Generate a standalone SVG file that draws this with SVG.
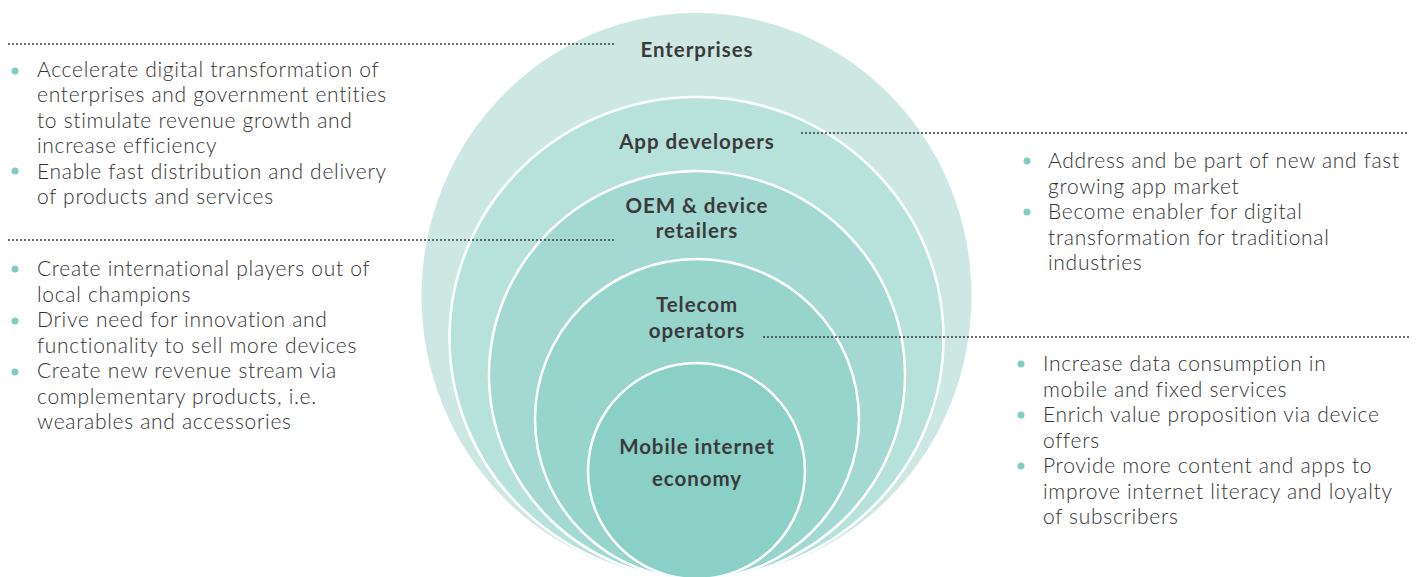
<svg xmlns="http://www.w3.org/2000/svg" width="1420" height="577" viewBox="0 0 1420 577">
<style>
.ring{stroke:#ffffff;stroke-width:2.5}
.lbl{font-family:"Lato","Liberation Sans",sans-serif;font-weight:700;font-size:20.5px;letter-spacing:0.95px;fill:#3a3a3a;text-anchor:middle}
.txt{font-family:"Lato","Liberation Sans",sans-serif;font-weight:300;font-size:21px;letter-spacing:0.7px;fill:#333333}
.dot{fill:#7fcdc3}
.lead{stroke:#3a3a3a;stroke-width:2;stroke-dasharray:0 4;stroke-linecap:round;fill:none}
</style>
<rect width="1420" height="577" fill="#ffffff"/>
<g id="enterprises">
<ellipse cx="696.5" cy="296" rx="275" ry="283" fill="#cde8e3"/>
<text class="lbl" x="697" y="57">Enterprises</text>
</g>
<g id="app-developers">
<ellipse class="ring" cx="696.5" cy="338" rx="247" ry="241" fill="#b7e1db"/>
<text class="lbl" x="697" y="149">App developers</text>
</g>
<g id="oem">
<ellipse class="ring" cx="697" cy="375" rx="208" ry="204" fill="#a3d9d2"/>
<text class="lbl" x="697" y="213">OEM &amp; device</text>
<text class="lbl" x="697" y="238">retailers</text>
</g>
<g id="telecom">
<ellipse class="ring" cx="697" cy="419" rx="162" ry="160" fill="#97d4cc"/>
<text class="lbl" x="697" y="312">Telecom</text>
<text class="lbl" x="697" y="338">operators</text>
</g>
<g id="mobile">
<ellipse class="ring" cx="696.5" cy="471" rx="108.5" ry="108" fill="#8ad0c7"/>
<text class="lbl" x="697" y="454">Mobile internet</text>
<text class="lbl" x="697" y="486">economy</text>
</g>
<g id="connectors">
<line class="lead" x1="9" y1="44" x2="615" y2="44"/>
<line class="lead" x1="802" y1="133" x2="1409" y2="133"/>
<line class="lead" x1="9" y1="240" x2="615" y2="240"/>
<line class="lead" x1="764" y1="337" x2="1409" y2="337"/>
</g>
<g id="enterprises-notes">
<circle class="dot" cx="15" cy="71" r="3.5"/>
<circle class="dot" cx="15" cy="171" r="3.5"/>
<text class="txt" x="37" y="77">Accelerate digital transformation of</text>
<text class="txt" x="37" y="102.4">enterprises and government entities</text>
<text class="txt" x="37" y="127.8">to stimulate revenue growth and</text>
<text class="txt" x="37" y="153.2">increase efficiency</text>
<text class="txt" x="37" y="178.6">Enable fast distribution and delivery</text>
<text class="txt" x="37" y="204">of products and services</text>
</g>
<g id="oem-notes">
<circle class="dot" cx="15" cy="269" r="3.5"/>
<circle class="dot" cx="15" cy="321" r="3.5"/>
<circle class="dot" cx="15" cy="372" r="3.5"/>
<text class="txt" x="37" y="276">Create international players out of</text>
<text class="txt" x="37" y="301.5">local champions</text>
<text class="txt" x="37" y="327">Drive need for innovation and</text>
<text class="txt" x="37" y="352.5">functionality to sell more devices</text>
<text class="txt" x="37" y="378">Create new revenue stream via</text>
<text class="txt" x="37" y="403.5">complementary products, i.e.</text>
<text class="txt" x="37" y="429">wearables and accessories</text>
</g>
<g id="app-notes">
<circle class="dot" cx="1027" cy="161" r="3.5"/>
<circle class="dot" cx="1027" cy="212" r="3.5"/>
<text class="txt" x="1048" y="168">Address and be part of new and fast</text>
<text class="txt" x="1048" y="193.5">growing app market</text>
<text class="txt" x="1048" y="219">Become enabler for digital</text>
<text class="txt" x="1048" y="244.5">transformation for traditional</text>
<text class="txt" x="1048" y="270">industries</text>
</g>
<g id="telecom-notes">
<circle class="dot" cx="1021" cy="364" r="3.5"/>
<circle class="dot" cx="1021" cy="415" r="3.5"/>
<circle class="dot" cx="1021" cy="466" r="3.5"/>
<text class="txt" x="1043" y="371">Increase data consumption in</text>
<text class="txt" x="1043" y="396.5">mobile and fixed services</text>
<text class="txt" x="1043" y="422">Enrich value proposition via device</text>
<text class="txt" x="1043" y="447.5">offers</text>
<text class="txt" x="1043" y="473">Provide more content and apps to</text>
<text class="txt" x="1043" y="498.5">improve internet literacy and loyalty</text>
<text class="txt" x="1043" y="524">of subscribers</text>
</g>
</svg>
